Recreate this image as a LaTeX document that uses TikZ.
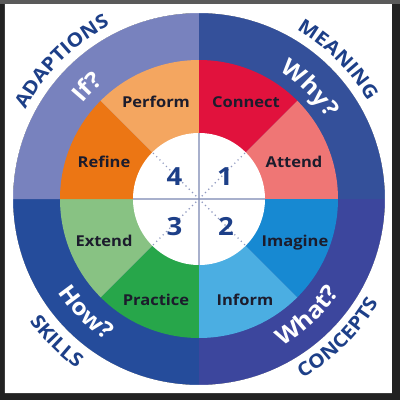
\documentclass[tikz,border=0pt]{standalone}
\usepackage{fontspec}
\setmainfont[FakeStretch=1.1]{Open Sans}
\usetikzlibrary{decorations.text}

\definecolor{frame}{HTML}{222222}
\definecolor{frametop}{HTML}{5A5A5A}
\definecolor{navy}{HTML}{1D3F88}
\definecolor{labelink}{HTML}{1C1C2C}
\definecolor{connect}{HTML}{E1123D}
\definecolor{attend}{HTML}{EF7675}
\definecolor{imagine}{HTML}{1789D2}
\definecolor{inform}{HTML}{4BAEE2}
\definecolor{practice}{HTML}{27A64A}
\definecolor{extend}{HTML}{88C283}
\definecolor{refine}{HTML}{EC7614}
\definecolor{perform}{HTML}{F4A660}
% ring quadrants, inner to outer
\definecolor{adaptin}{HTML}{7882BE}
\definecolor{adaptmid}{HTML}{8791C6}
\definecolor{adaptout}{HTML}{5C68AC}
\definecolor{meanin}{HTML}{34509A}
\definecolor{meanout}{HTML}{1A347C}
\definecolor{skillin}{HTML}{254C9B}
\definecolor{skillout}{HTML}{153680}
\definecolor{concin}{HTML}{3C469D}
\definecolor{concout}{HTML}{27318D}
\definecolor{hubedge}{HTML}{BCC0CC}
\definecolor{hubline}{HTML}{A8B0CC}
\definecolor{hubdot}{HTML}{8F99C0}

\pgfdeclareradialshading{adaptring}{\pgfpoint{0bp}{0bp}}{color(0bp)=(adaptin); color(37bp)=(adaptin); color(43bp)=(adaptmid); color(50bp)=(adaptout)}
\pgfdeclareradialshading{meanring}{\pgfpoint{0bp}{0bp}}{color(0bp)=(meanin); color(37bp)=(meanin); color(50bp)=(meanout)}
\pgfdeclareradialshading{skillring}{\pgfpoint{0bp}{0bp}}{color(0bp)=(skillin); color(37bp)=(skillin); color(50bp)=(skillout)}
\pgfdeclareradialshading{concring}{\pgfpoint{0bp}{0bp}}{color(0bp)=(concin); color(37bp)=(concin); color(50bp)=(concout)}
\pgfdeclareradialshading{hubshade}{\pgfpoint{-6bp}{6bp}}{color(0bp)=(white); color(36bp)=(white); color(57bp)=(hubedge); color(70bp)=(hubedge)}

\newcommand\ringfont{\fontsize{23}{23}\selectfont\bfseries}
\newcommand\outerfont{\fontsize{19}{19}\selectfont\bfseries}

\begin{document}
\begin{tikzpicture}[
  x=1pt, y=1pt,
  sector/.style={font=\fontsize{15}{15}\selectfont\bfseries, text=labelink, anchor=base, inner sep=0pt},
  digit/.style={font=\fontsize{25}{25}\selectfont\bfseries, text=navy, inner sep=0pt},
  axis/.style={draw=hubline, line width=1.2pt},
  diag/.style={draw=hubdot, line width=1.6pt, line cap=round, dash pattern=on 0pt off 4.6pt},
  ringword/.style={decorate, decoration={text along path, text color=white, text align=center, text={|\ringfont|#1}}},
  outerword/.style={decorate, decoration={text along path, text color=navy, text align=center, text={|\outerfont|#1}}},
]
\useasboundingbox (-199,-201) rectangle (201,199);

% frame
\fill[frame] (-199,-201) rectangle (201,199);
\fill[frametop] (-199,195) rectangle (201,199);

% outer ring, one quadrant each
\foreach \ang/\sh in {90/meanring, 0/concring, -90/skillring, 180/adaptring}{
  \begin{scope}
    \clip (0,0) -- (\ang:220) arc[start angle=\ang, end angle=\ang-90, radius=220] -- cycle;
    \shade[shading=\sh] (0,0) circle (186);
  \end{scope}
}
% white paper round the ring
\fill[white, even odd rule] (-194,-194) rectangle (193,195) (0,0) circle (186);

% eight sectors
\foreach \ang/\col in {90/connect, 45/attend, 0/imagine, -45/inform, -90/practice, -135/extend, 180/refine, 135/perform}
  \fill[\col] (0,0) -- (\ang:139) arc[start angle=\ang, end angle=\ang-45, radius=139] -- cycle;

% hub
\node[circle, minimum size=132, inner sep=0pt, shade, shading=hubshade] (hub) at (0,0) {};
\draw[axis] (hub.north) -- (hub.south);
\draw[axis] (hub.west) -- (hub.east);
\foreach \a in {45,135,225,315}
  \draw[diag] (hub.center) -- (hub.\a);

\node[digit] (d1) at (26,22.5) {1};
\node[digit] (d2) at (27,-27.5) {2};
\node[digit] (d3) at (-24.5,-27.5) {3};
\node[digit] (d4) at (-24.5,22.5) {4};

% sector labels
\node[sector] (connect) at (47,92) {Connect};
\node[sector] (attend) at (95,32) {Attend};
\node[sector] (imagine) at (96,-47.5) {Imagine};
\node[sector] (inform) at (46,-106) {Inform};
\node[sector] (practice) at (-43,-106) {Practice};
\node[sector] (extend) at (-95,-47.5) {Extend};
\node[sector] (refine) at (-95,32) {Refine};
\node[sector] (perform) at (-43,92) {Perform};

% questions in the ring
\path[ringword=If?] (175:151) arc[start angle=175, end angle=95, radius=151];
\path[ringword=Why?] (85:151) arc[start angle=85, end angle=5, radius=151];
\path[ringword=How?] (-175:169) arc[start angle=-175, end angle=-95, radius=169];
\path[ringword=What?] (-87:169) arc[start angle=-87, end angle=-7, radius=169];

% outer words
\path[outerword=ADAPTIONS] (178:195) arc[start angle=178, end angle=92, radius=195];
\path[outerword=MEANING] (88:195) arc[start angle=88, end angle=2, radius=195];
\path[outerword=SKILLS] (-178:209) arc[start angle=-178, end angle=-92, radius=209];
\path[outerword=CONCEPTS] (-88:207) arc[start angle=-88, end angle=-2, radius=207];

\end{tikzpicture}
\end{document}
